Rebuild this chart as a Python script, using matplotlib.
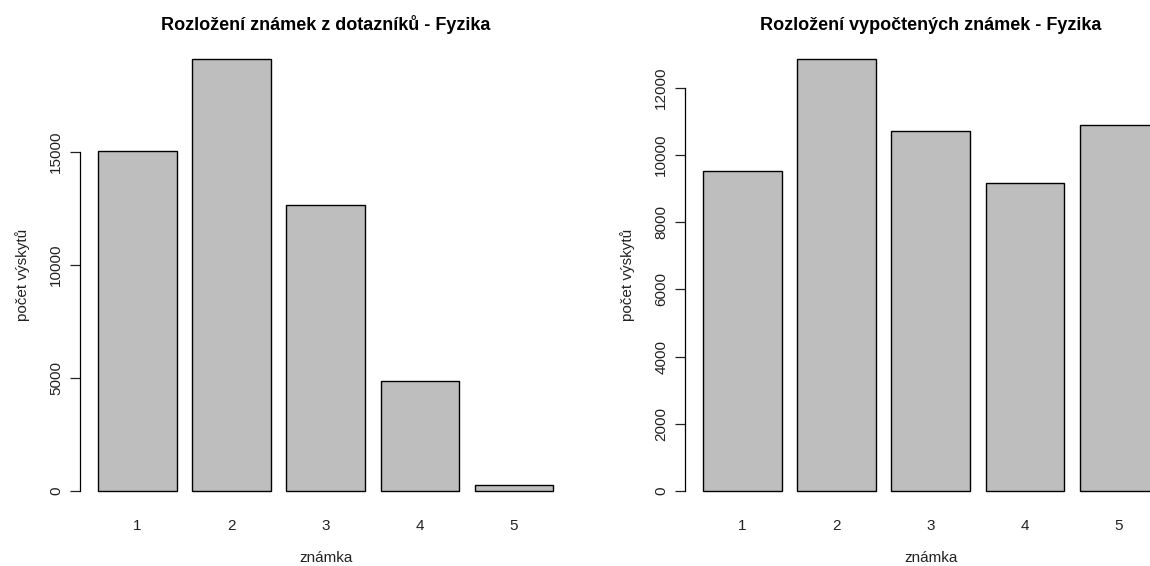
import matplotlib
matplotlib.use("Agg")
import matplotlib.pyplot as plt

plt.rcParams["font.family"] = ["Liberation Sans", "DejaVu Sans"]

grades = ["1", "2", "3", "4", "5"]
survey_counts = [15030, 19100, 12650, 4870, 270]
computed_counts = [9530, 12860, 10720, 9185, 10905]

titles = ["Rozložení známek z dotazníků - Fyzika",
          "Rozložení vypočtených známek - Fyzika"]
yticks_left = [0, 5000, 10000, 15000]
yticks_right = [0, 2000, 4000, 6000, 8000, 10000, 12000]

fig = plt.figure(figsize=(11.5, 5.66), dpi=100)
W, H = 1150, 566
ax_w = 491.7 / W
ax_b = 1 - 508 / H
ax_h = (508 - 42) / H
axes = [fig.add_axes([79.8 / W, ax_b, ax_w, ax_h]),
        fig.add_axes([684.8 / W, ax_b, ax_w, ax_h])]

txt = "#222222"
for ax, counts, title, yt in zip(axes, [survey_counts, computed_counts], titles,
                                 [yticks_left, yticks_right]):
    # R barplot layout: width 1, space 0.2
    xs = [0.7 + 1.2 * i for i in range(len(counts))]
    ax.bar(xs, counts, width=1.0, color="#BEBEBE", edgecolor="black", linewidth=1.0)
    top = max(counts)
    ax.set_xlim(0.2 - 0.04 * 5.8, 6.0 + 0.04 * 5.8)
    ax.set_ylim(-0.04 * top, 1.04 * top)
    for s in ["top", "right", "bottom"]:
        ax.spines[s].set_visible(False)
    ax.spines["left"].set_bounds(yt[0], yt[-1])
    ax.spines["left"].set_linewidth(0.9)
    ax.set_yticks(yt)
    ax.set_yticklabels([str(v) for v in yt], rotation=90, va="center")
    ax.tick_params(axis="y", length=7, width=0.9, pad=5, labelsize=11, colors=txt)
    ax.set_xticks(xs)
    ax.set_xticklabels(grades)
    ax.tick_params(axis="x", length=0, pad=8, labelsize=11, colors=txt)
    ax.set_xlabel("známka", fontsize=11, color=txt, labelpad=13)
    ax.set_ylabel("počet výskytů", fontsize=11, color=txt, labelpad=14)
    ax.set_title(title, fontsize=13, fontweight="bold", pad=9)

fig.savefig("out.png", dpi=100)
